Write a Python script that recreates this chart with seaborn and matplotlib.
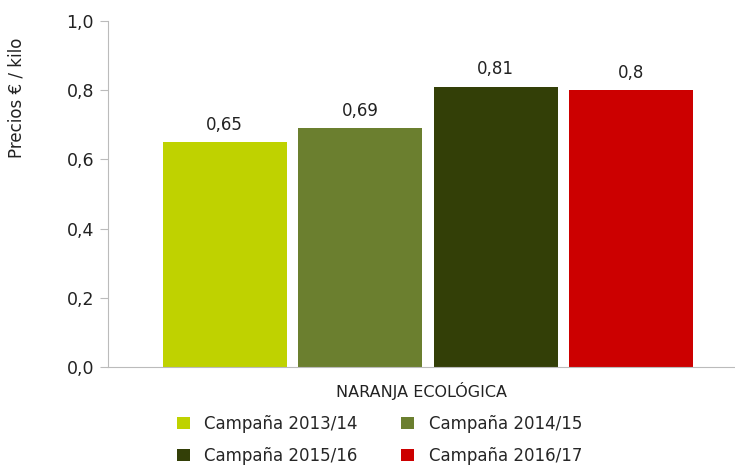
import numpy as np
import matplotlib.pyplot as plt
import pandas as pd
import seaborn as sns

producto = "NARANJA ECOLÓGICA"
campanas = ["Campaña 2013/14", "Campaña 2014/15", "Campaña 2015/16", "Campaña 2016/17"]
precios = [0.65, 0.69, 0.81, 0.80]
etiquetas = ["0,65", "0,69", "0,81", "0,8"]
colores = ["#BFD200", "#6B7F2F", "#333F07", "#CC0000"]

df = pd.DataFrame({"producto": [producto] * 4, "campana": campanas, "precio": precios})

sns.set_style("white")
plt.rcParams['font.family'] = ['DejaVu Sans']

fig = plt.figure(figsize=(7.35, 4.67), dpi=100)
ax = fig.add_axes([108 / 735, 1 - 367 / 467, 1 - 108 / 735, 346 / 467])

sns.barplot(data=df, x="producto", y="precio", hue="campana", palette=colores,
            width=0.8, gap=0.085, saturation=1, linewidth=0, ax=ax)

for cont, lab in zip(ax.containers, etiquetas):
    ax.bar_label(cont, labels=[lab], padding=6, fontsize=12, color="#222222")

ax.set_ylim(0, 1.0)
ax.set_xlim(-0.4723, 0.453)
yt = np.arange(0, 1.01, 0.2)
ax.set_yticks(yt)
ax.set_yticklabels([f"{v:.1f}".replace(".", ",") for v in yt], fontsize=12.5, color="#222222")
ax.set_xticks([])
ax.set_xlabel(producto, fontsize=11.5, color="#222222", labelpad=11)
ax.set_ylabel("Precios € / kilo", fontsize=12, color="#222222")
ax.yaxis.set_label_coords(-0.132, 0.777)

for s in ["top", "right"]:
    ax.spines[s].set_visible(False)
ax.spines["left"].set_color("#BBBBBB")
ax.spines["bottom"].set_color("#BBBBBB")
ax.tick_params(axis="y", length=6, color="#BBBBBB", left=True, pad=4)

h, l = ax.get_legend_handles_labels()
ax.get_legend().remove()
order = [0, 2, 1, 3]
fig.legend([h[i] for i in order], [l[i] for i in order], ncol=2,
           loc="upper left", bbox_to_anchor=(162 / 735, 1 - 400 / 467),
           frameon=False, fontsize=12, handlelength=0.75, handleheight=0.75,
           handletextpad=0.9, columnspacing=2.6, labelspacing=0.85)

plt.savefig("out.png", dpi=100)
